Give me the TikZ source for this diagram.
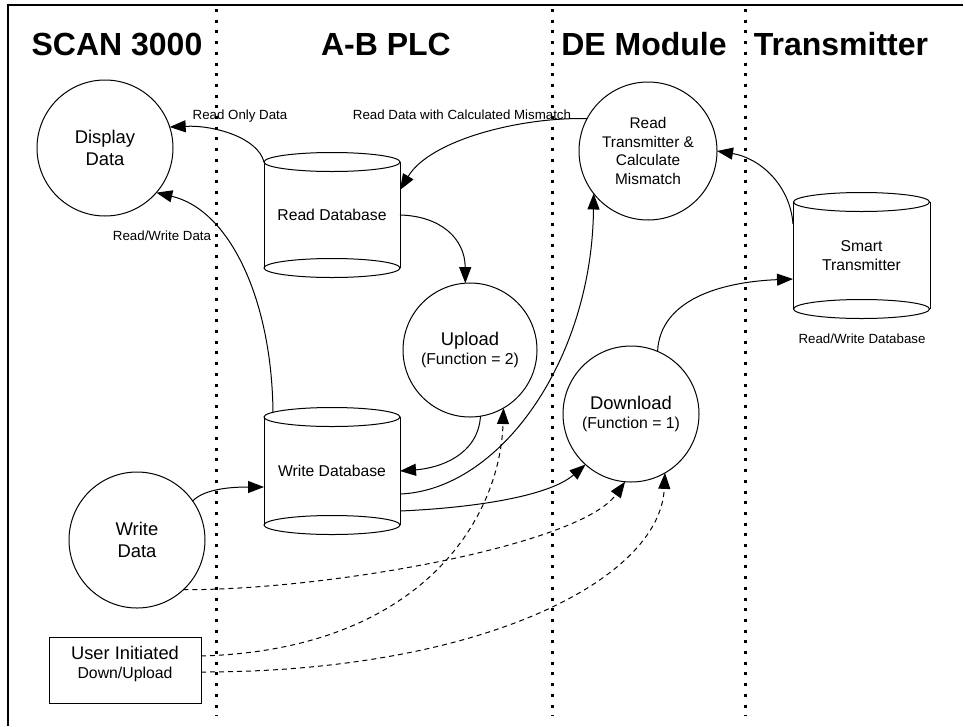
\documentclass[tikz,border=0pt]{standalone}
\usepackage{fontspec}
\setmainfont{Liberation Sans}
\usetikzlibrary{arrows.meta,calc}

\begin{document}
\begin{tikzpicture}[x=1pt,y=-1pt,
  every node/.style={inner sep=0pt,outer sep=0pt},
  ttl/.style={font=\fontsize{32}{38}\selectfont\bfseries,anchor=base},
  circ/.style={draw,circle,line width=1pt,minimum size=136pt,align=center,font=\fontsize{18.4}{22}\selectfont},
  circs/.style={draw,circle,line width=1pt,minimum size=138pt,align=center,font=\fontsize{15.4}{18.5}\selectfont},
  cyl/.style={rectangle,minimum width=136pt,align=center,font=\fontsize{15.7}{19}\selectfont},
  lbl/.style={font=\fontsize{13.3}{15}\selectfont,anchor=base},
  dotline/.style={line width=3pt,dash pattern=on 3pt off 7.7pt},
  arr/.style={line width=1pt,-{Triangle[length=16pt,width=12pt]}},
  darr/.style={arr,dash pattern=on 5pt off 4pt}
]
\useasboundingbox (0,0) rectangle (965,726);

% frame
\draw[line width=2.5pt] (963,5) -- (8,5) -- (8,726);

% lane separators
\draw[dotline] (216,9) -- (216,716);
\draw[dotline] (552,9) -- (552,716);
\draw[dotline] (745,9) -- (745,716);

% titles
\node[ttl] (t1) at (117,55) {SCAN 3000};
\node[ttl] (t2) at (386,55) {A-B PLC};
\node[ttl] (t3) at (644,55) {DE Module};
\node[ttl] (t4) at (841,55) {Transmitter};

% circles
\node[circ] (disp) at (105,148) {Display\\Data};
\node[circ] (wd) at (137,540) {Write\\Data};
\node[circ,minimum size=134pt] (upl) at (470,350) {Upload\\[-3pt]{\fontsize{15.8}{18}\selectfont (Function = 2)}};
\node[circ] (dl) at (631,414) {Download\\[-3pt]{\fontsize{15.8}{18}\selectfont (Function = 1)}};
\node[circs] (rtx) at (648,151) {Read\\Transmitter \&\\Calculate\\Mismatch};

% cylinders
\node[cyl,minimum height=106pt] (rdb) at (332,215) {Read Database};
\node[cyl,minimum height=108pt] (wdb) at (332,471) {Write Database};
\node[cyl,minimum width=137pt,minimum height=107pt] (st) at (861.5,255.5) {Smart\\Transmitter};
\foreach \c in {rdb,wdb,st}{
  \draw[line width=1pt] (\c.north west) -- (\c.south west);
  \draw[line width=1pt] (\c.north east) -- (\c.south east);
  \draw[line width=1pt,fill=white] (\c.north) ellipse [x radius=68pt,y radius=9.5pt];
  \draw[line width=1pt] (\c.south) ellipse [x radius=68pt,y radius=9.5pt];
}
\node[lbl] (rwdb) at (862,343) {Read/Write Database};

% user box
\node[draw,line width=1pt,minimum width=152pt,minimum height=66pt] (ub) at (125,670) {};
\node[align=center,font=\fontsize{18.3}{19}\selectfont] (ubt) at (125,664) {User Initiated\\{\fontsize{15.8}{18}\selectfont Down/Upload}};

% connector labels
\node[lbl] (l1) at (240,119) {Read Only Data};
\node[lbl] (l2) at (462,119) {Read Data with Calculated Mismatch};
\node[lbl] (l3) at (162,240) {Read/Write Data};

% solid connectors
\draw[arr] (rdb.north west) .. controls (258,138) and (215,125) .. (disp.18);
\draw[arr] (rtx.152) .. controls (520,117) and (430,140) .. ([yshift=-28pt]rdb.north east);
\draw[arr] ([yshift=-22pt]st.north west) .. controls (790,185) and (760,158) .. (rtx.0);
\draw[arr] (rdb.east) .. controls (440,216) and (465,238) .. (upl.94);
\draw[arr] ([xshift=9pt,yshift=4pt]wdb.north west) .. controls (272,300) and (230,210) .. (disp.-41);
\draw[arr] (upl.-81) .. controls (478,455) and (440,468) .. (wdb.east);
\draw[arr] ([yshift=-77pt]wdb.north east) .. controls (500,490) and (592,360) .. (rtx.218);
\draw[arr] ([yshift=-94pt]wdb.north east) .. controls (470,508) and (548,497) .. (dl.228);
\draw[arr] (wd.35) .. controls (205,488) and (235,487) .. ([yshift=-70pt]wdb.north west);
\draw[arr] (dl.67) .. controls (660,300) and (720,282) .. ([yshift=-77pt]st.north west);

% dashed connectors
\draw[darr] (wd.313) .. controls (330,590) and (580,545) .. (dl.265);
\draw[darr] ([yshift=14pt]ub.east) .. controls (420,650) and (500,520) .. (upl.-60);
\draw[darr] ([yshift=-2pt]ub.east) .. controls (480,672) and (660,580) .. (dl.300);
\end{tikzpicture}
\end{document}
